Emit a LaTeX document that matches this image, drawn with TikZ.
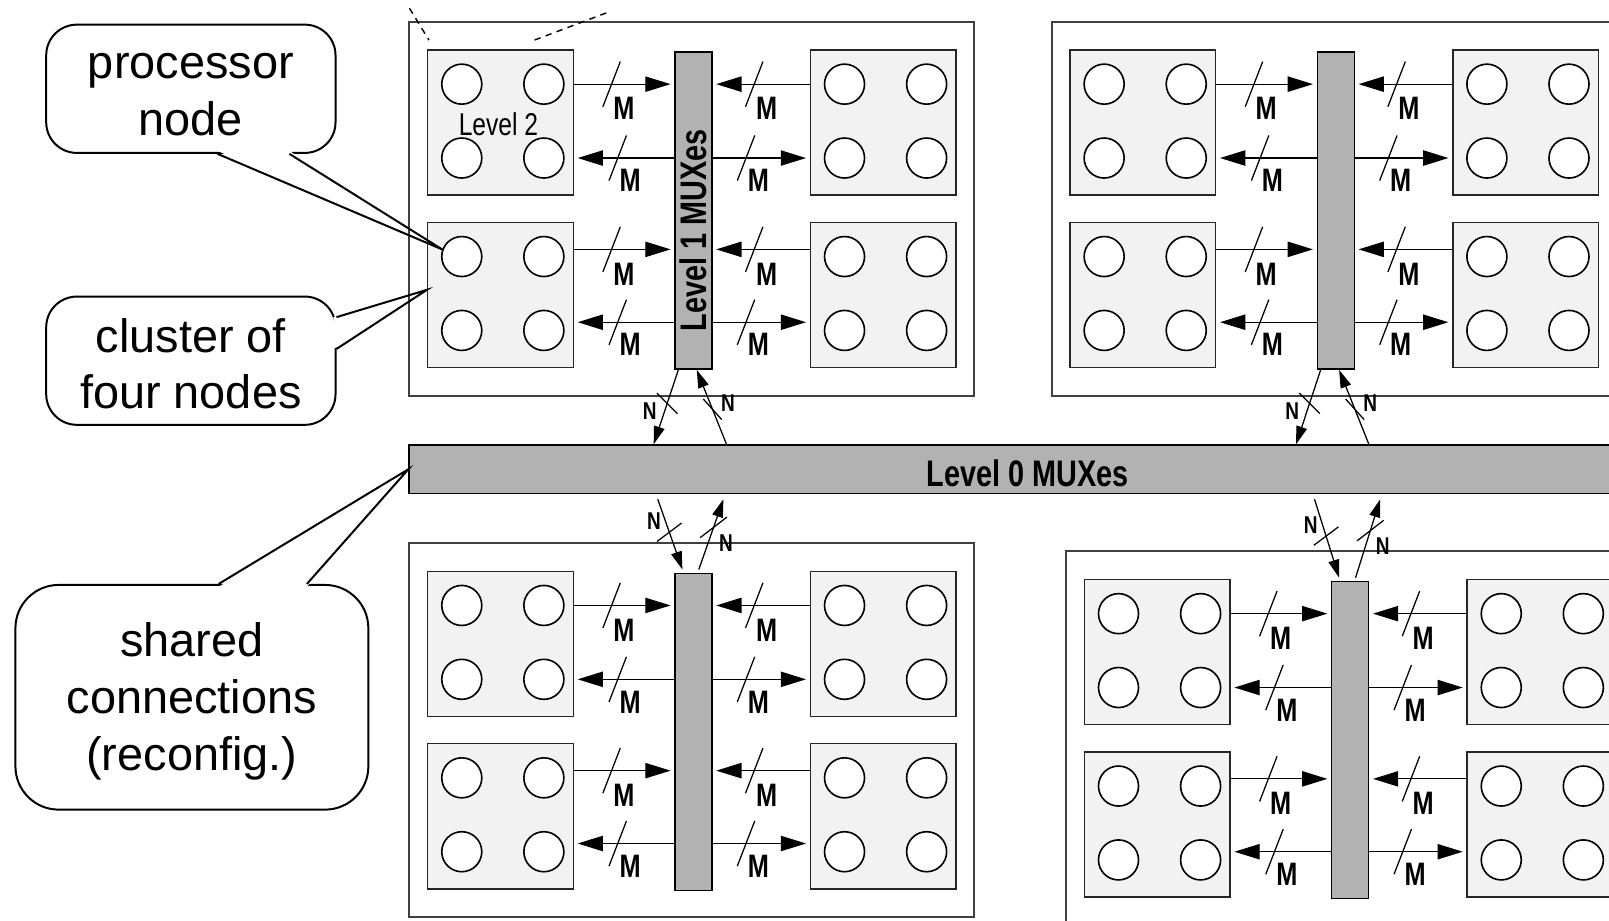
\documentclass[tikz,border=0pt]{standalone}
\usepackage{fontspec}
\setmainfont{Liberation Sans}
\newfontfamily\narrowsf[FakeStretch=0.78]{Liberation Sans}
\usetikzlibrary{arrows.meta,calc}

\definecolor{muxgray}{gray}{0.7}
\definecolor{clustergray}{gray}{0.95}

\tikzset{
  module/.style={draw=black!75, line width=1.1pt, anchor=north west,
    minimum width=11cm, minimum height=7.3cm, inner sep=0pt},
  cluster/.style={draw=black!85, fill=clustergray, line width=0.85pt, anchor=north west,
    minimum width=2.84cm, minimum height=2.83cm, inner sep=0pt},
  pnode/.style={draw, circle, fill=white, line width=0.9pt, minimum size=0.78cm, inner sep=0pt},
  muxbar/.style={draw, fill=muxgray, line width=0.85pt, anchor=north west,
    minimum width=0.72cm, minimum height=6.18cm, inner sep=0pt},
  mline/.style={line width=0.7pt, -{Triangle[length=14pt, width=8.5pt]}, shorten >=2pt},
  nline/.style={line width=0.7pt, -{Triangle[length=10pt, width=6pt]}},
  slash/.style={line width=0.7pt},
  mlabel/.style={font=\narrowsf\bfseries\fontsize{18}{18}\selectfont, inner sep=0pt},
  nlabel/.style={font=\narrowsf\bfseries\fontsize{13.5}{14}\selectfont, inner sep=0pt},
  bartext/.style={font=\narrowsf\bfseries\fontsize{20.5}{21}\selectfont, inner sep=0pt},
  lvltext/.style={font=\narrowsf\fontsize{17.5}{18}\selectfont, inner sep=0pt},
  callout/.style={draw, line width=1.1pt, rounded corners=17pt, fill=white, inner sep=0pt},
  callouttext/.style={align=center, font=\fontsize{26}{31.5}\selectfont, inner sep=0pt},
  tail/.style={line width=1.1pt}
}

\begin{document}
\begin{tikzpicture}[x=0.02cm, y=-0.02cm]
  \useasboundingbox (0,0) rectangle (1568,897);
  \clip (0,0) rectangle (1568,897);

  % four level 1 modules
  \foreach \md/\ox/\oy in {tl/398/20, tr/1024/20, bl/398/528, br/1038/536} {
    \node[module] (\md) at (\ox,\oy) {};
    \node[cluster] (\md-a) at ($(\md.north west)+(18,28)$) {};
    \node[cluster] (\md-b) at ($(\md.north west)+(18,196)$) {};
    \node[cluster] (\md-c) at ($(\md.north west)+(391,28)$) {};
    \node[cluster] (\md-d) at ($(\md.north west)+(391,196)$) {};
    \node[muxbar] (\md-bar) at ($(\md.north west)+(259,30)$) {};
    \foreach \cl in {a,b,c,d}
      \foreach \i/\dx/\dy in {1/34/34, 2/114/34, 3/34/106, 4/114/106}
        \node[pnode] (\md-\cl\i) at ($(\md-\cl.north west)+(\dx,\dy)$) {};
    \foreach \rw/\ry/\lc/\rc in {1/62/a/c, 3/223/b/d} {
      \coordinate (\md-r\rw) at ($(\md.north west)+(0,\ry)$);
      \draw[mline] (\md-\lc.east |- \md-r\rw) -- (\md-bar.west |- \md-r\rw);
      \draw[mline] (\md-\rc.west |- \md-r\rw) -- (\md-bar.east |- \md-r\rw);
      \draw[slash] ($(\md.north west)+(198,\ry)$) +(-8.5,22) -- +(8.5,-22);
      \draw[slash] ($(\md.north west)+(337,\ry)$) +(-8.5,22) -- +(8.5,-22);
      \node[mlabel] (\md-ml\rw) at ($(\md.north west)+(210,\ry+24)$) {M};
      \node[mlabel] (\md-mr\rw) at ($(\md.north west)+(349,\ry+24)$) {M};
    }
    \foreach \rw/\ry/\lc/\rc in {2/134/a/c, 4/294/b/d} {
      \coordinate (\md-r\rw) at ($(\md.north west)+(0,\ry)$);
      \draw[mline] (\md-bar.west |- \md-r\rw) -- (\md-\lc.east |- \md-r\rw);
      \draw[mline] (\md-bar.east |- \md-r\rw) -- (\md-\rc.west |- \md-r\rw);
      \draw[slash] ($(\md.north west)+(204,\ry)$) +(-8.5,22) -- +(8.5,-22);
      \draw[slash] ($(\md.north west)+(329,\ry)$) +(-8.5,22) -- +(8.5,-22);
      \node[mlabel] (\md-ml\rw) at ($(\md.north west)+(216,\ry+22)$) {M};
      \node[mlabel] (\md-mr\rw) at ($(\md.north west)+(341,\ry+22)$) {M};
    }
  }

  \node[lvltext] (l2-text) at ($(tl-a.center)+(-2,2)$) {Level 2};
  \node[bartext, rotate=90] (l1-text) at ($(tl-bar.center)+(0,19)$) {Level 1 MUXes};

  \node[muxbar, minimum width=24.12cm, minimum height=0.94cm] (l0) at (398,433) {};
  \node[bartext] (l0-text) at ($(l0.center)+(0,4)$) {Level 0 MUXes};

  % N-wide links to level 0
  \foreach \md in {tl,tr} {
    \draw[nline] ($(\md-bar.south west)+(4,0)$) -- ($(l0.north -| \md-bar.west)+(-20,0)$)
      coordinate[pos=0.45] (\md-nd);
    \draw[slash] (\md-nd) +(-10,-10) -- +(10,10);
    \node[nlabel] (\md-ndl) at ($(\md-nd)+(-17,8)$) {N};
    \draw[nline] ($(l0.north -| \md-bar.west)+(51,0)$) -- ($(\md-bar.south west)+(22,0)$)
      coordinate[pos=0.47] (\md-nu);
    \draw[slash] (\md-nu) +(-9,-10) -- +(9,10);
    \node[nlabel] (\md-nul) at ($(\md-nu)+(15,-6)$) {N};
  }
  \foreach \md in {bl,br} {
    \draw[nline] ($(l0.south -| \md-bar.west)+(-16,5)$) -- ($(\md-bar.north west)+(8,-3)$)
      coordinate[pos=0.47] (\md-nd);
    \draw[slash] (\md-nd) +(-12,9) -- +(12,-9);
    \node[nlabel] (\md-ndl) at ($(\md-nd)+(-15,-11)$) {N};
    \draw[nline] ($(\md-bar.north west)+(24,-3)$) -- ($(l0.south -| \md-bar.west)+(48,5)$)
      coordinate[pos=0.6] (\md-nu);
    \draw[slash] (\md-nu) +(-13,10) -- +(13,-10);
    \node[nlabel] (\md-nul) at ($(\md-nu)+(12,15)$) {N};
  }

  \draw[dashed, dash pattern=on 3.5pt off 3pt, line width=0.8pt] (399,8) -- (418,39);
  \draw[dashed, dash pattern=on 3.5pt off 3pt, line width=0.8pt] (521,39) -- (595,11);

  % callouts
  \node[callout, minimum width=5.64cm, minimum height=2.5cm] (pn) at (186,86.5) {};
  \node[callouttext] (pn-text) at ($(pn.center)+(0,6)$) {processor\\node};
  \coordinate (pn-t1) at ($(pn.south west)+(168,0)$);
  \coordinate (pn-t2) at ($(pn.south west)+(238,0)$);
  \fill[white] ($(pn-t1)+(0,-3)$) -- ($(pn-t1)!0.3!(tl-b1.160)$) -- ($(pn-t2)!0.3!(tl-b1.160)$)
    -- ($(pn-t2)+(0,-3)$) -- cycle;
  \draw[tail] (pn-t1) -- (tl-b1.160) -- (pn-t2);

  \node[callout, minimum width=5.64cm, minimum height=2.5cm] (cf) at (186,351.5) {};
  \node[callouttext] (cf-text) at ($(cf.center)+(0,3)$) {cluster of\\four nodes};
  \coordinate (cf-t1) at ($(cf.north east)+(0,21)$);
  \coordinate (cf-t2) at ($(cf.north east)+(0,52)$);
  \fill[white] ($(cf-t1)+(-3,0)$) -- ($(cf-t1)!0.3!(tl-b.176)$) -- ($(cf-t2)!0.3!(tl-b.176)$)
    -- ($(cf-t2)+(-3,0)$) -- cycle;
  \draw[tail] (cf-t1) -- (tl-b.176) -- (cf-t2);

  \node[callout, rounded corners=24pt, minimum width=6.88cm, minimum height=4.38cm] (sc) at (187,679.5) {};
  \node[callouttext] (sc-text) at ($(sc.center)+(0,4)$) {shared\\connections\\(reconfig.)};
  \coordinate (sc-t1) at ($(sc.north west)+(199,0)$);
  \coordinate (sc-t2) at ($(sc.north west)+(285,0)$);
  \fill[white] ($(sc-t1)+(0,3)$) -- ($(sc-t1)!0.3!(l0.west)$) -- ($(sc-t2)!0.3!(l0.west)$)
    -- ($(sc-t2)+(0,3)$) -- cycle;
  \draw[tail] (sc-t1) -- (l0.west) -- (sc-t2);
\end{tikzpicture}
\end{document}
